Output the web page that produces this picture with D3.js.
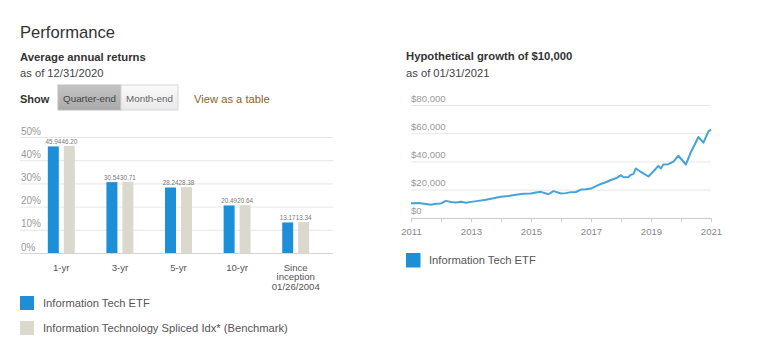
<!DOCTYPE html>
<html>
<head>
<meta charset="utf-8">
<script src="https://cdn.jsdelivr.net/npm/d3@7"></script>
<style>
  body { margin: 0; background: #fff; font-family: "Liberation Sans", Arial, sans-serif; }
  svg text { font-family: "Liberation Sans", Arial, sans-serif; }
</style>
</head>
<body>
<div id="chart"></div>
<script>
// Données : rendements annuels moyens
const periods = ["1-yr", "3-yr", "5-yr", "10-yr", "Since inception 01/26/2004"];
const seriesNames = ["Information Tech ETF", "Information Technology Spliced Idx* (Benchmark)"];
const etfReturns = [45.94, 30.54, 28.24, 20.49, 13.17];
const benchReturns = [46.20, 30.71, 28.38, 20.64, 13.34];
const returnTicks = [0, 10, 20, 30, 40, 50];

// Données : croissance hypothétique de 10 000 $
const growthDates = ["2011-01", "2011-04", "2011-07", "2011-09", "2011-11", "2012-01", "2012-03", "2012-05",
  "2012-07", "2012-09", "2012-11", "2013-01", "2013-04", "2013-07", "2013-10", "2014-01", "2014-04",
  "2014-07", "2014-10", "2015-01", "2015-03", "2015-05", "2015-08", "2015-10", "2016-01", "2016-03",
  "2016-05", "2016-07", "2016-09", "2016-11", "2017-01", "2017-03", "2017-05", "2017-07", "2017-09",
  "2017-11", "2018-01", "2018-02", "2018-04", "2018-05", "2018-06", "2018-07", "2018-09", "2018-12",
  "2019-02", "2019-04", "2019-05", "2019-06", "2019-08", "2019-10", "2019-12", "2020-03", "2020-05",
  "2020-08", "2020-10", "2020-12", "2021-01"];
const growthValues = [10400, 10500, 9800, 9200, 10000, 10200, 12000, 11200,
  10800, 11400, 10700, 11300, 12000, 12800, 13800, 14900, 15500,
  16300, 17000, 17300, 18000, 18400, 16700, 18900, 17200, 17500,
  18200, 18300, 20000, 20300, 20700, 22500, 24000, 25200, 26800,
  28000, 30200, 28700, 29000, 30500, 31000, 35000, 32500, 29300,
  33000, 36800, 35000, 37800, 38000, 39800, 44000, 37800, 46500,
  57300, 53300, 61300, 62500];
const growthTicks = [0, 20000, 40000, 60000, 80000];

const blue = "#1d8fd6";
const beige = "#dbd8cd";
const lineBlue = "#45a3d8";
const gridColor = "#e6e6e6";
const tickText = "#999";

const svg = d3.select("#chart").append("svg")
  .attr("width", 768)
  .attr("height", 352);

// En-tête
svg.append("text").attr("x", 20).attr("y", 38)
  .attr("font-size", 16.6).attr("fill", "#333").text("Performance");
svg.append("text").attr("x", 20).attr("y", 61)
  .attr("font-size", 11.3).attr("font-weight", "bold").attr("fill", "#333").text("Average annual returns");
svg.append("text").attr("x", 20).attr("y", 77)
  .attr("font-size", 11.2).attr("fill", "#444").text("as of 12/31/2020");
svg.append("text").attr("x", 20).attr("y", 103)
  .attr("font-size", 11).attr("font-weight", "bold").attr("fill", "#333").text("Show");

// Boutons
const defs = svg.append("defs");
const g1 = defs.append("linearGradient").attr("id", "btnOn").attr("x1", 0).attr("y1", 0).attr("x2", 0).attr("y2", 1);
g1.append("stop").attr("offset", "0%").attr("stop-color", "#c4c4c4");
g1.append("stop").attr("offset", "100%").attr("stop-color", "#a9a9a9");
const g2 = defs.append("linearGradient").attr("id", "btnOff").attr("x1", 0).attr("y1", 0).attr("x2", 0).attr("y2", 1);
g2.append("stop").attr("offset", "0%").attr("stop-color", "#fafafa");
g2.append("stop").attr("offset", "100%").attr("stop-color", "#e9e9e9");

svg.append("rect").attr("x", 58).attr("y", 85).attr("width", 63).attr("height", 25)
  .attr("fill", "url(#btnOn)").attr("stroke", "#bdbdbd");
svg.append("rect").attr("x", 121).attr("y", 85).attr("width", 57).attr("height", 25)
  .attr("fill", "url(#btnOff)").attr("stroke", "#d6d6d6");
svg.append("text").attr("x", 89.5).attr("y", 101.5).attr("text-anchor", "middle")
  .attr("font-size", 9.8).attr("fill", "#444").text("Quarter-end");
svg.append("text").attr("x", 149.5).attr("y", 101.5).attr("text-anchor", "middle")
  .attr("font-size", 9.8).attr("fill", "#666").text("Month-end");
svg.append("text").attr("x", 194).attr("y", 103)
  .attr("font-size", 11.2).attr("fill", "#8f6126").text("View as a table");

// Graphique en barres
const yBar = d3.scaleLinear().domain([0, 50]).range([253, 137]);
const x0 = d3.scaleBand().domain(periods).range([32, 325]).paddingInner(0.54).paddingOuter(0.27);
const x1 = d3.scaleBand().domain(seriesNames).range([0, x0.bandwidth()]).paddingInner(0.3125);
const barColor = d3.scaleOrdinal().domain(seriesNames).range([blue, beige]);

const barAxis = svg.append("g")
  .attr("transform", "translate(20,0)")
  .call(d3.axisRight(yBar).tickValues(returnTicks).tickSize(313).tickFormat(d => d + "%"));
barAxis.select(".domain").remove();
barAxis.selectAll(".tick line").attr("stroke", d => d === 0 ? "#d4d4d4" : gridColor);
barAxis.selectAll(".tick text")
  .attr("x", 1).attr("dy", "-3px").attr("text-anchor", "start")
  .attr("font-size", 10).attr("fill", tickText);

const barData = periods.map((p, i) => ({
  period: p,
  values: [
    { name: seriesNames[0], value: etfReturns[i] },
    { name: seriesNames[1], value: benchReturns[i] }
  ]
}));

const groups = svg.selectAll(".group")
  .data(barData)
  .enter()
  .append("g")
  .attr("transform", d => `translate(${x0(d.period)},0)`);

groups.selectAll("rect")
  .data(d => d.values)
  .enter()
  .append("rect")
  .attr("x", d => x1(d.name))
  .attr("y", d => yBar(d.value))
  .attr("width", x1.bandwidth())
  .attr("height", d => yBar(0) - yBar(d.value))
  .attr("fill", d => barColor(d.name));

groups.selectAll(".val")
  .data(d => d.values)
  .enter()
  .append("text")
  .attr("x", d => x1(d.name) + x1.bandwidth() / 2)
  .attr("y", d => yBar(d.value) - 2)
  .attr("text-anchor", "middle")
  .attr("font-size", 6.3)
  .attr("fill", "#777")
  .text(d => d.value.toFixed(2));

// Étiquettes des catégories
const catLines = { "Since inception 01/26/2004": ["Since", "inception", "01/26/2004"] };
groups.append("text")
  .attr("x", x0.bandwidth() / 2)
  .attr("y", 270.5)
  .attr("text-anchor", "middle")
  .attr("font-size", 9.6)
  .attr("fill", "#555")
  .selectAll("tspan")
  .data(d => catLines[d.period] || [d.period])
  .enter()
  .append("tspan")
  .attr("x", x0.bandwidth() / 2)
  .attr("dy", (d, i) => i === 0 ? 0 : 9.6)
  .text(d => d);

// Légende
seriesNames.forEach((name, i) => {
  svg.append("rect").attr("x", 20).attr("y", 296 + i * 25).attr("width", 14).attr("height", 14)
    .attr("fill", barColor(name));
  svg.append("text").attr("x", 43).attr("y", 306.5 + i * 25)
    .attr("font-size", 11.2).attr("fill", "#555").text(name);
});

// Croissance hypothétique
svg.append("text").attr("x", 406).attr("y", 60)
  .attr("font-size", 11.3).attr("font-weight", "bold").attr("fill", "#333").text("Hypothetical growth of $10,000");
svg.append("text").attr("x", 406).attr("y", 77)
  .attr("font-size", 11.2).attr("fill", "#444").text("as of 01/31/2021");

const parse = d3.timeParse("%Y-%m");
const growth = growthDates.map((d, i) => ({ date: parse(d), value: growthValues[i] }));

const xTime = d3.scaleTime().domain([parse("2011-01"), parse("2021-01")]).range([411, 711]);
const yGrowth = d3.scaleLinear().domain([0, 80000]).range([217.8, 105]);

const gAxis = svg.append("g")
  .attr("transform", "translate(411,0)")
  .call(d3.axisRight(yGrowth).tickValues(growthTicks).tickSize(300).tickFormat(d => "$" + d3.format(",")(d)));
gAxis.select(".domain").remove();
gAxis.selectAll(".tick line").attr("stroke", gridColor);
gAxis.selectAll(".tick text")
  .attr("x", 0).attr("dy", "-4px").attr("text-anchor", "start")
  .attr("font-size", 9.6).attr("fill", tickText);

const xAxis = svg.append("g")
  .attr("transform", "translate(0,218)")
  .call(d3.axisBottom(xTime).ticks(d3.timeYear.every(1)).tickSize(4).tickSizeOuter(0)
    .tickFormat(d => d.getFullYear() % 2 === 1 ? d.getFullYear() : ""));
xAxis.select(".domain").attr("stroke", "#ccc");
xAxis.selectAll(".tick line").attr("stroke", "#ccc");
xAxis.selectAll(".tick text").attr("font-size", 9.6).attr("fill", "#888").attr("dy", "1em");

svg.append("path")
  .datum(growth)
  .attr("fill", "none")
  .attr("stroke", lineBlue)
  .attr("stroke-width", 2)
  .attr("stroke-linejoin", "round")
  .attr("d", d3.line().x(d => xTime(d.date)).y(d => yGrowth(d.value)));

svg.append("rect").attr("x", 406).attr("y", 253).attr("width", 14.5).attr("height", 14.5).attr("fill", blue);
svg.append("text").attr("x", 429).attr("y", 264)
  .attr("font-size", 11.2).attr("fill", "#555").text("Information Tech ETF");
</script>
</body>
</html>
